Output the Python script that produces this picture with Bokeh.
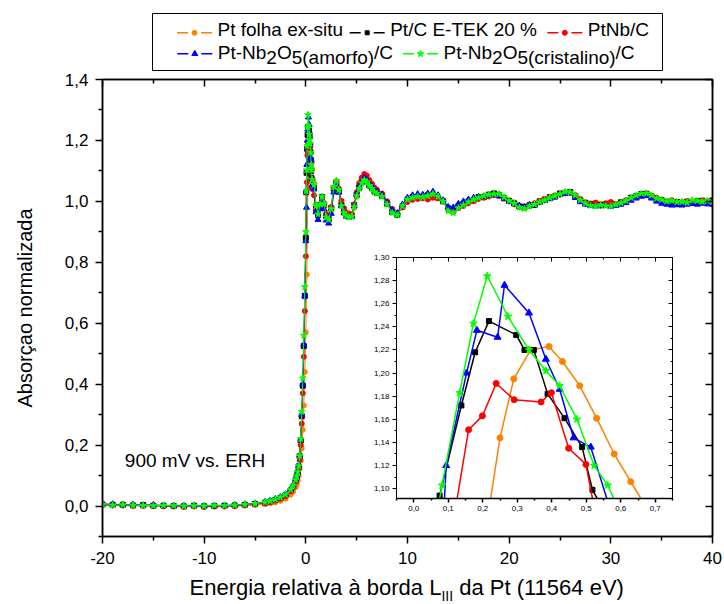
from bokeh.plotting import figure
from bokeh.models import FixedTicker, CustomJSTickFormatter, LinearAxis, Label, Range1d
from bokeh.embed import file_html
from bokeh.resources import INLINE

FONT = "Liberation Sans"

# ---------------- data ----------------
energia_pre = [-20, -19, -18, -17, -16, -15, -14, -13, -12, -11, -10, -9, -8, -7, -6, -5, -4,
               -3.5, -3, -2.5, -2, -1.5, -1.25, -1, -0.9, -0.8, -0.7, -0.6, -0.5, -0.4, -0.3, -0.2, -0.1, 0.0]
energia_pos = [0.8, 1.0, 1.2, 1.4, 1.6, 1.8, 2.0,
               2.25, 2.5, 2.75, 3.0, 3.25, 3.5, 3.75, 4.0, 4.25, 4.5, 4.75, 5.0, 5.25, 5.5, 5.75, 6.0, 6.25, 6.5, 6.75, 7.0,
               7.5, 8.0, 8.5, 9.0, 9.5, 10.0, 10.5, 11.0, 11.5, 12.0, 12.5, 13.0, 13.5, 14.0, 14.5, 15.0, 15.5, 16.0,
               16.5, 17.0, 17.5, 18.0, 18.5, 19.0, 19.5, 20.0, 20.5, 21.0, 21.5, 22.0, 22.5, 23.0, 23.5, 24.0, 24.5,
               25.0, 25.5, 26.0, 26.5, 27.0, 27.5, 28.0, 28.5, 29.0, 29.5, 30.0, 30.5, 31.0, 31.5, 32.0, 32.5, 33.0,
               33.5, 34.0, 34.5, 35.0, 35.5, 36.0, 36.5, 37.0, 37.5, 38.0, 38.5, 39.0, 39.5, 40.0]

# Pt folha ex-situ
folha_pre = [0.003, 0.002, 0.001, 0.001, 0.000, 0.000, -0.001, -0.002, -0.002, -0.002, -0.003, -0.002, -0.002, -0.001, 0.001, 0.003, 0.006,
             0.009, 0.012, 0.017, 0.024, 0.037, 0.047, 0.062, 0.072, 0.084, 0.100, 0.122, 0.150, 0.190, 0.250, 0.330, 0.440, 0.570]
folha_pico_x = [0.10, 0.20, 0.250, 0.290, 0.339, 0.392, 0.431, 0.481, 0.530, 0.581, 0.629, 0.70]
folha_pico_y = [0.76, 1.047, 1.144, 1.195, 1.220, 1.223, 1.210, 1.189, 1.161, 1.130, 1.106, 1.071]
folha_pos = [1.060, 0.990, 0.962, 0.980, 1.010, 0.995, 0.960,
             0.945, 0.970, 1.032, 1.058, 1.040, 0.995, 0.970, 0.960, 0.957, 0.950, 0.978, 1.015, 1.042, 1.060, 1.070, 1.068, 1.058, 1.048, 1.038, 1.030,
             1.022, 0.998, 0.972, 0.962, 0.982, 1.003, 1.010, 1.012, 1.015, 1.016, 1.022, 1.017, 1.004, 0.978, 0.973, 0.980, 0.988, 0.996, 1.004, 1.010,
             1.018, 1.022, 1.022, 1.024, 1.014, 1.005, 0.997, 0.987, 0.982, 0.984, 0.992, 0.996, 1.003, 1.010, 1.020, 1.022, 1.028, 1.032, 1.020, 1.007,
             0.998, 0.994, 0.988, 0.992, 0.991, 0.988, 0.992, 0.996, 1.003, 1.008, 1.016, 1.024, 1.022, 1.020, 1.010, 1.003, 0.996, 0.999, 0.994, 0.998,
             0.995, 0.999, 1.001, 0.998, 1.001, 0.995]

# Pt/C E-TEK 20 %
etek_pre = [0.005, 0.004, 0.004, 0.002, 0.003, 0.001, 0.001, 0.000, -0.001, 0.001, -0.001, 0.000, 0.001, 0.002, 0.004, 0.007, 0.011,
            0.015, 0.020, 0.026, 0.035, 0.051, 0.064, 0.083, 0.096, 0.110, 0.130, 0.163, 0.215, 0.295, 0.395, 0.525, 0.690, 0.880]
etek_pico_x = [0.04, 0.075, 0.138, 0.178, 0.218, 0.297, 0.321, 0.348, 0.388, 0.437, 0.488, 0.518, 0.56]
etek_pico_y = [1.03, 1.094, 1.172, 1.218, 1.245, 1.233, 1.220, 1.220, 1.182, 1.161, 1.136, 1.099, 1.076]
etek_pos = [1.045, 0.975, 0.955, 0.987, 1.014, 0.988, 0.952,
            0.940, 0.978, 1.042, 1.060, 1.032, 0.988, 0.965, 0.955, 0.952, 0.955, 0.988, 1.022, 1.046, 1.064, 1.072, 1.066, 1.052, 1.044, 1.033, 1.028,
            1.018, 0.992, 0.965, 0.955, 0.983, 1.006, 1.014, 1.012, 1.015, 1.020, 1.022, 1.012, 1.000, 0.977, 0.970, 0.984, 0.992, 1.000, 1.004, 1.014,
            1.014, 1.022, 1.026, 1.020, 1.010, 1.001, 0.993, 0.983, 0.982, 0.987, 0.988, 1.000, 1.006, 1.014, 1.016, 1.026, 1.028, 1.031, 1.016, 1.003,
            0.995, 0.990, 0.992, 0.988, 0.991, 0.993, 0.989, 0.997, 1.000, 1.012, 1.017, 1.024, 1.025, 1.016, 1.006, 1.004, 0.999, 0.996, 0.998, 0.995,
            0.999, 0.997, 1.000, 1.002, 0.998, 1.003]

# PtNb/C
ptnb_pre = [0.004, 0.002, 0.005, 0.002, 0.001, 0.003, 0.000, 0.001, -0.002, 0.000, -0.002, 0.001, -0.001, 0.001, 0.003, 0.006, 0.010,
            0.014, 0.018, 0.024, 0.033, 0.048, 0.060, 0.078, 0.090, 0.104, 0.122, 0.150, 0.200, 0.270, 0.370, 0.490, 0.640, 0.820]
ptnb_pico_x = [0.11, 0.159, 0.199, 0.239, 0.291, 0.369, 0.399, 0.449, 0.499, 0.55]
ptnb_pico_y = [1.063, 1.151, 1.163, 1.191, 1.177, 1.175, 1.183, 1.135, 1.121, 1.042]
ptnb_pos = [1.020, 0.972, 0.962, 0.990, 1.008, 0.985, 0.958,
            0.948, 0.982, 1.045, 1.066, 1.042, 1.002, 0.978, 0.962, 0.960, 0.957, 0.990, 1.030, 1.060, 1.078, 1.090, 1.085, 1.070, 1.058, 1.045, 1.038,
            1.026, 1.000, 0.975, 0.962, 0.980, 0.998, 1.005, 1.008, 1.010, 1.006, 1.012, 1.010, 1.000, 0.972, 0.965, 0.978, 0.985, 0.994, 1.000, 1.008,
            1.012, 1.016, 1.020, 1.018, 1.010, 1.000, 0.990, 0.982, 0.978, 0.990, 0.994, 1.002, 1.008, 1.014, 1.016, 1.022, 1.026, 1.028, 1.020, 1.008,
            0.994, 0.988, 0.996, 0.986, 0.994, 0.998, 0.992, 0.994, 1.004, 1.009, 1.014, 1.020, 1.026, 1.018, 1.012, 1.000, 0.998, 1.004, 0.996, 0.992,
            1.000, 0.997, 0.994, 1.003, 0.995, 0.990]

# Pt-Nb2O5(amorfo)/C
amorfo_pre = [0.007, 0.006, 0.004, 0.005, 0.003, 0.004, 0.002, 0.002, 0.001, 0.002, 0.000, 0.002, 0.002, 0.004, 0.006, 0.009, 0.014,
              0.018, 0.023, 0.030, 0.039, 0.055, 0.068, 0.087, 0.099, 0.113, 0.133, 0.166, 0.218, 0.300, 0.400, 0.530, 0.690, 0.870]
amorfo_pico_x = [0.07, 0.094, 0.153, 0.183, 0.243, 0.263, 0.334, 0.383, 0.423, 0.463, 0.513, 0.60]
amorfo_pico_y = [0.98, 1.120, 1.200, 1.237, 1.231, 1.276, 1.252, 1.212, 1.186, 1.144, 1.136, 1.053]
amorfo_pos = [1.040, 0.965, 0.940, 0.975, 1.005, 0.975, 0.938,
              0.928, 0.960, 1.030, 1.055, 1.030, 0.985, 0.962, 0.950, 0.948, 0.950, 0.985, 1.025, 1.050, 1.065, 1.078, 1.070, 1.058, 1.048, 1.038, 1.032,
              1.022, 0.996, 0.972, 0.962, 0.990, 1.012, 1.020, 1.024, 1.022, 1.026, 1.032, 1.020, 1.004, 0.982, 0.980, 0.992, 1.000, 1.006, 1.012, 1.015,
              1.016, 1.020, 1.022, 1.018, 1.010, 1.000, 0.992, 0.986, 0.982, 0.988, 0.990, 0.996, 1.002, 1.008, 1.014, 1.022, 1.026, 1.027, 1.012, 0.998,
              0.990, 0.986, 0.984, 0.985, 0.986, 0.983, 0.986, 0.990, 0.995, 1.003, 1.010, 1.016, 1.018, 1.010, 1.000, 0.993, 0.990, 0.987, 0.988, 0.987,
              0.990, 0.992, 0.990, 0.993, 0.991, 0.990]

# Pt-Nb2O5(cristalino)/C
crist_pre = [0.005, 0.003, 0.004, 0.003, 0.002, 0.001, 0.002, 0.001, 0.000, 0.001, 0.000, 0.002, 0.001, 0.003, 0.005, 0.008, 0.013,
             0.017, 0.022, 0.029, 0.038, 0.054, 0.067, 0.086, 0.098, 0.112, 0.132, 0.165, 0.220, 0.310, 0.420, 0.560, 0.720, 0.900]
crist_pico_x = [0.04, 0.082, 0.133, 0.173, 0.213, 0.273, 0.334, 0.383, 0.423, 0.473, 0.523, 0.562, 0.61]
crist_pico_y = [1.034, 1.103, 1.183, 1.243, 1.284, 1.249, 1.220, 1.202, 1.189, 1.160, 1.120, 1.103, 1.072]
crist_pos = [1.055, 0.985, 0.958, 0.990, 1.016, 0.992, 0.948,
             0.940, 0.975, 1.048, 1.068, 1.038, 0.985, 0.962, 0.952, 0.948, 0.950, 0.982, 1.018, 1.042, 1.060, 1.070, 1.064, 1.052, 1.042, 1.030, 1.026,
             1.016, 0.990, 0.962, 0.955, 0.985, 1.006, 1.012, 1.016, 1.014, 1.018, 1.024, 1.016, 1.000, 0.968, 0.962, 0.978, 0.988, 0.998, 1.006, 1.012,
             1.018, 1.022, 1.024, 1.024, 1.014, 1.002, 0.993, 0.980, 0.976, 0.984, 0.990, 0.998, 1.004, 1.012, 1.018, 1.024, 1.032, 1.030, 1.020, 1.004,
             0.994, 0.986, 0.984, 0.988, 0.985, 0.984, 0.990, 0.995, 1.002, 1.012, 1.020, 1.026, 1.026, 1.020, 1.010, 1.006, 1.000, 1.002, 0.998, 0.999,
             0.996, 1.004, 1.002, 0.999, 1.002, 0.998]

x_ticks = [-20, -10, 0, 10, 20, 30, 40]
x_minor = [-15, -5, 5, 15, 25, 35]
y_ticks = [0.0, 0.2, 0.4, 0.6, 0.8, 1.0, 1.2, 1.4]
y_minor = [-0.1, 0.1, 0.3, 0.5, 0.7, 0.9, 1.1, 1.3]
ins_x_ticks = [0.0, 0.1, 0.2, 0.3, 0.4, 0.5, 0.6, 0.7]
ins_x_minor = [-0.05, 0.05, 0.15, 0.25, 0.35, 0.45, 0.55, 0.65, 0.75]
ins_y_ticks = [1.10, 1.12, 1.14, 1.16, 1.18, 1.20, 1.22, 1.24, 1.26, 1.28, 1.30]
ins_y_minor = [1.11, 1.13, 1.15, 1.17, 1.19, 1.21, 1.23, 1.25, 1.27, 1.29]

series = [
    dict(rot="Pt folha ex-situ", cor="#FF8000", mk="circle", pre=folha_pre, px=folha_pico_x, py=folha_pico_y, pos=folha_pos),
    dict(rot="Pt/C E-TEK 20 %", cor="#000000", mk="square", pre=etek_pre, px=etek_pico_x, py=etek_pico_y, pos=etek_pos),
    dict(rot="PtNb/C", cor="#FF0000", mk="circle", pre=ptnb_pre, px=ptnb_pico_x, py=ptnb_pico_y, pos=ptnb_pos),
    dict(rot="Pt-Nb2O5(amorfo)/C", cor="#0000FF", mk="triangle", pre=amorfo_pre, px=amorfo_pico_x, py=amorfo_pico_y, pos=amorfo_pos),
    dict(rot="Pt-Nb2O5(cristalino)/C", cor="#00FF00", mk="star", pre=crist_pre, px=crist_pico_x, py=crist_pico_y, pos=crist_pos),
]
for s in series:
    if len(s["pre"]) != len(energia_pre) or len(s["pos"]) != len(energia_pos) or len(s["px"]) != len(s["py"]):
        raise ValueError(f"{s['rot']}: {len(s['pre'])} {len(s['pos'])} {len(s['px'])} {len(s['py'])}")
    s["x"] = energia_pre + s["px"] + energia_pos
    s["y"] = s["pre"] + s["py"] + s["pos"]

# Arial / Liberation Sans advance widths (per 1000 em) for layout of composite texts
W = {' ': 278, '(': 333, ')': 333, '-': 333, '.': 278, '/': 278, ',': 278, '%': 889,
     'A': 667, 'C': 722, 'E': 667, 'H': 722, 'I': 278, 'K': 667, 'L': 556, 'N': 722, 'O': 778, 'P': 667,
     'R': 722, 'T': 611, 'V': 667, 'a': 556, 'b': 556, 'c': 500, 'd': 556, 'e': 556, 'f': 278, 'g': 556,
     'h': 556, 'i': 222, 'l': 222, 'm': 833, 'n': 556, 'o': 556, 'r': 333, 's': 500, 't': 278, 'u': 556,
     'v': 500, 'x': 500, 'z': 500, 'à': 556, 'ç': 500}


def tw(txt, size):
    return sum(W.get(c, 556) for c in txt) * size / 1000.0


def mid(baseline, size):
    # vertical centre of a text whose alphabetic baseline is `baseline` (y grows downwards)
    return baseline - 0.35 * size


def style_axis(ax, ticks, minor, code, outward, size, major_len, minor_len, standoff=7):
    ax.ticker = FixedTicker(ticks=ticks, minor_ticks=minor)
    ax.formatter = CustomJSTickFormatter(code=code)
    ax.axis_line_color = "black"
    ax.axis_line_width = 1.5
    ax.major_tick_line_color = "black"
    ax.minor_tick_line_color = "black"
    ax.major_tick_line_width = 1.5
    ax.minor_tick_line_width = 1.5
    if outward:
        ax.major_tick_out, ax.major_tick_in = major_len, 0
        ax.minor_tick_out, ax.minor_tick_in = minor_len, 0
    else:
        ax.major_tick_out, ax.major_tick_in = 0, major_len
        ax.minor_tick_out, ax.minor_tick_in = 0, minor_len
    ax.major_label_text_font = FONT
    ax.major_label_text_font_size = size
    ax.major_label_text_color = "black"
    ax.major_label_standoff = standoff


EMPTY = "return ''"

# ---------------- main figure ----------------
p = figure(width=724, height=604, x_range=Range1d(-20, 40), y_range=Range1d(-0.1, 1.4),
           output_backend="svg", toolbar_location=None, name="main",
           min_border_left=102, min_border_right=12, min_border_top=79, min_border_bottom=68)
p.grid.visible = False
p.outline_line_color = "black"
p.outline_line_width = 1.5
p.background_fill_color = "white"
p.border_fill_color = "white"

style_axis(p.xaxis[0], x_ticks, x_minor, "return tick.toFixed(0)", True, "17px", 7, 4, 8)
style_axis(p.yaxis[0], y_ticks, y_minor, "return tick.toFixed(1).replace('.', ',')", True, "17px", 7, 4, 7)
p.yaxis[0].axis_label = "Absorçao normalizada"
p.yaxis[0].axis_label_text_font = FONT
p.yaxis[0].axis_label_text_font_size = "20px"
p.yaxis[0].axis_label_text_font_style = "normal"
p.yaxis[0].axis_label_text_color = "black"
p.yaxis[0].axis_label_standoff = 26

top_ax = LinearAxis()
style_axis(top_ax, x_ticks, x_minor, EMPTY, False, "1px", 7, 4, 0)
p.add_layout(top_ax, "above")
right_ax = LinearAxis()
style_axis(right_ax, y_ticks, y_minor, EMPTY, False, "1px", 7, 4, 0)
p.add_layout(right_ax, "right")

for s in series:
    p.line(s["x"], s["y"], line_color=s["cor"], line_width=1)
    sz = {"circle": 5, "square": 5, "triangle": 6, "star": 7}[s["mk"]]
    p.scatter(s["x"], s["y"], marker=s["mk"], size=sz, fill_color=s["cor"], line_color=s["cor"])

p.add_layout(Label(x=-17.8, y=0.150, text="900 mV vs. ERH", text_font=FONT, text_font_size="19px",
                   text_color="black", text_baseline="middle", text_align="left"))

# ---------------- x-axis title (with subscript), its own transparent layer ----------------
xt = figure(width=724, height=44, x_range=Range1d(0, 724), y_range=Range1d(44, 0),
            output_backend="svg", toolbar_location=None, name="xtitle",
            x_axis_type=None, y_axis_type=None, min_border=0)
xt.grid.visible = False
xt.outline_line_color = None
xt.background_fill_color = None
xt.border_fill_color = None
XL_SIZE, XS_SIZE = 22, 14
XL_BASE = 35.0
# (text, font size, baseline shift, gap before)
xl_parts = [("Energia relativa à borda L", XL_SIZE, 0, 0.0),
            ("III", XS_SIZE, 5, 0.0),
            ("da Pt (11564 eV)", XL_SIZE, 0, tw(" ", XL_SIZE))]
total = sum(tw(t, s) + g for t, s, _, g in xl_parts)
x0 = 407 - total / 2.0
for txt, size, dy, gap in xl_parts:
    x0 += gap
    xt.add_layout(Label(x=x0, y=mid(XL_BASE + dy, size), text=txt, text_font=FONT, text_font_size=f"{size}px",
                        text_color="black", text_baseline="middle", text_align="left"))
    x0 += tw(txt, size)

# ---------------- inset ----------------
ins = figure(width=320, height=273, x_range=Range1d(-0.05, 0.75), y_range=Range1d(1.0915, 1.30),
             output_backend="svg", toolbar_location=None, name="inset",
             min_border_left=36, min_border_right=8, min_border_top=12, min_border_bottom=20)
ins.grid.visible = False
ins.outline_line_color = "black"
ins.outline_line_width = 1
ins.background_fill_color = "white"
ins.border_fill_color = None
style_axis(ins.xaxis[0], ins_x_ticks, ins_x_minor, "return tick.toFixed(1).replace('.', ',')", True, "8px", 4, 2, 3)
style_axis(ins.yaxis[0], ins_y_ticks, ins_y_minor, "return tick.toFixed(2).replace('.', ',')", True, "8px", 4, 2, 3)
ins_top = LinearAxis()
style_axis(ins_top, ins_x_ticks, ins_x_minor, EMPTY, False, "1px", 4, 2, 0)
ins.add_layout(ins_top, "above")
ins_right = LinearAxis()
style_axis(ins_right, ins_y_ticks, ins_y_minor, EMPTY, False, "1px", 4, 2, 0)
ins.add_layout(ins_right, "right")
for ax in (ins.xaxis[0], ins.yaxis[0], ins_top, ins_right):
    ax.axis_line_width = 1
    ax.major_tick_line_width = 1
    ax.minor_tick_line_width = 1

for s in series:
    ins.line(s["x"], s["y"], line_color=s["cor"], line_width=1.5)
    sz = {"circle": 6, "square": 5, "triangle": 7, "star": 8}[s["mk"]]
    ins.scatter(s["x"], s["y"], marker=s["mk"], size=sz, fill_color=s["cor"], line_color=s["cor"])

# ---------------- legend ----------------
leg = figure(width=512, height=59, x_range=Range1d(0, 510), y_range=Range1d(57, 0),
             output_backend="svg", toolbar_location=None, name="legend",
             x_axis_type=None, y_axis_type=None, min_border=1)
leg.grid.visible = False
leg.outline_line_color = "black"
leg.outline_line_width = 1
leg.background_fill_color = "white"
leg.border_fill_color = None

LEG_SIZE = 19
# (series index, key centre, line y, text baseline, [(piece, lowered)])
leg_rows = [
    (0, 42.0, 19.3, 22.7, [("Pt folha ex-situ", 0)]),
    (1, 214.7, 19.3, 22.7, [("Pt/C E-TEK 20 %", 0)]),
    (2, 412.3, 19.3, 22.7, [("PtNb/C", 0)]),
    (3, 42.3, 40.3, 45.3, [("Pt-Nb", 0), ("2", 1), ("O", 0), ("5(amorfo)", 1), ("/C", 0)]),
    (4, 268.0, 40.3, 45.3, [("Pt-Nb", 0), ("2", 1), ("O", 0), ("5(cristalino)", 1), ("/C", 0)]),
]
for idx, cx, ly, base, pieces in leg_rows:
    s = series[idx]
    leg.segment(x0=[cx - 17.5, cx + 6.5], y0=[ly, ly], x1=[cx - 6.5, cx + 17.5], y1=[ly, ly],
                line_color=s["cor"], line_width=1.5)
    sz = {"circle": 5, "square": 4, "triangle": 6, "star": 7}[s["mk"]]
    leg.scatter([cx], [ly], marker=s["mk"], size=sz, fill_color=s["cor"], line_color=s["cor"])
    tx = cx + 23
    for txt, low in pieces:
        leg.add_layout(Label(x=tx, y=mid(base + (5.5 if low else 0), LEG_SIZE), text=txt, text_font=FONT,
                             text_font_size=f"{LEG_SIZE}px", text_color="black",
                             text_baseline="middle", text_align="left"))
        tx += tw(txt, LEG_SIZE)

TEMPLATE = """
{% block contents %}
{% from macros import embed with context %}
<div style="position:relative;width:724px;height:604px;overflow:hidden;background:white;">
<div style="position:absolute;left:0px;top:0px;">{{ embed(roots.main) }}</div>
<div style="position:absolute;left:0px;top:560px;">{{ embed(roots.xtitle) }}</div>
<div style="position:absolute;left:360px;top:245px;">{{ embed(roots.inset) }}</div>
<div style="position:absolute;left:151px;top:12px;">{{ embed(roots.legend) }}</div>
</div>
{% endblock %}
"""

html = file_html([p, xt, ins, leg], INLINE, title="XANES Pt LIII", template=TEMPLATE)
open("out.html", "w").write(html)
